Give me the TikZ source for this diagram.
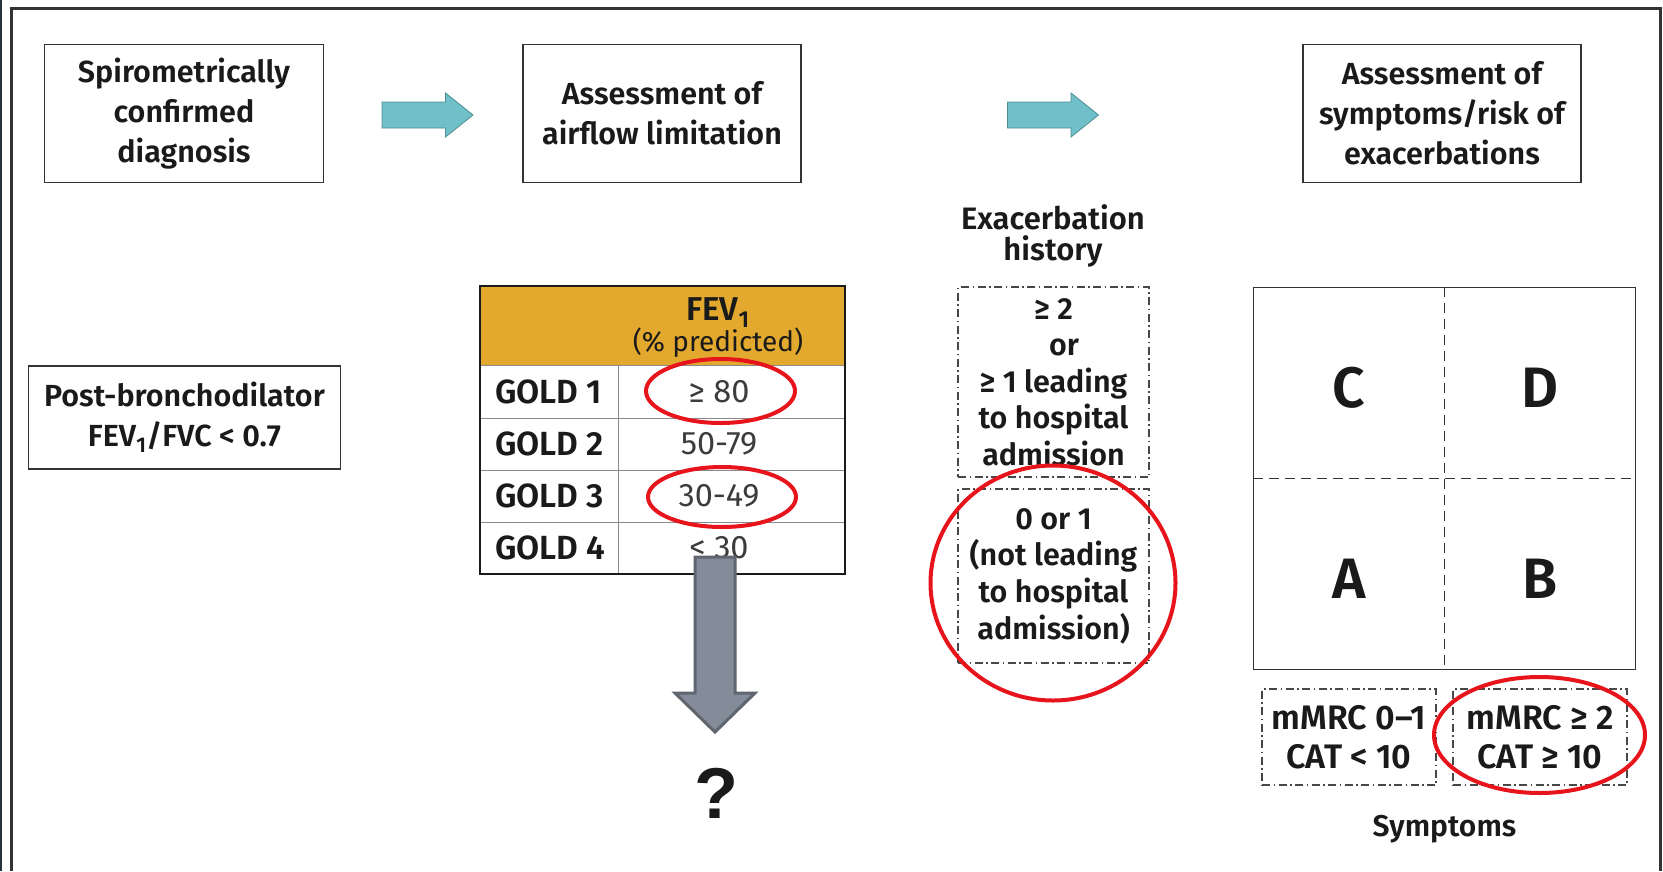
\documentclass[tikz,border=0pt]{standalone}
\usepackage{fontspec}
\setmainfont{Fira Sans}[BoldFont={Fira Sans SemiBold}]
\newfontfamily\qfont{Liberation Sans}
\usetikzlibrary{shapes.geometric}

\definecolor{ink}{HTML}{1A1A1A}
\definecolor{framegray}{HTML}{333333}
\definecolor{stripcol}{HTML}{263440}
\definecolor{tealfill}{HTML}{6FC0C8}
\definecolor{tealedge}{HTML}{4E8F96}
\definecolor{goldfill}{HTML}{E2A92E}
\definecolor{slatefill}{HTML}{848C99}
\definecolor{slateedge}{HTML}{5F6670}
\definecolor{ringred}{HTML}{E8141C}
\definecolor{rulegray}{HTML}{8A8A8A}

\tikzset{
  stepbox/.style={draw=framegray, line width=1.3pt, fill=white, align=center,
    inner sep=0pt, text=ink, font=\bfseries\fontsize{30.5}{40}\selectfont},
  dashbox/.style={draw=framegray!90, line width=1.2pt, align=center, inner sep=0pt,
    text=ink, dash pattern=on 8pt off 3.5pt on 1.5pt off 3.5pt},
  blockteal/.style={fill=tealfill, draw=tealedge, line width=0.8pt},
  blockgray/.style={fill=slatefill, draw=slateedge, line width=3pt, line join=miter},
  ring/.style={ellipse, draw=ringred, line width=4pt, inner sep=0pt},
  goldlabel/.style={anchor=west, inner sep=0pt, text=ink, font=\bfseries\fontsize{33.5}{33.5}\selectfont},
  goldvalue/.style={inner sep=0pt, text=ink!85, font=\fontsize{32.5}{32.5}\selectfont},
  quad/.style={inner sep=0pt, text=ink, font=\bfseries\fontsize{57}{57}\selectfont},
  plain/.style={inner sep=0pt, align=center, text=ink},
}

\begin{document}
\begin{tikzpicture}[x=1pt,y=-1pt]
\useasboundingbox (0,0) rectangle (1663,871);
\fill[white] (0,0) rectangle (1663,871);

% outer frame
\fill[stripcol] (0,0) rectangle (2,871);
\draw[framegray, line width=3pt] (11,871) -- (11,8.5) -- (1660.5,8.5) -- (1660.5,871);

% top row of steps
\node[stepbox, minimum width=279pt, minimum height=138pt] (diag) at (184,113.5)
  {Spirometrically\\confirmed\\diagnosis};
\node[stepbox, minimum width=278pt, minimum height=138pt] (airflow) at (662,113.5)
  {Assessment of\\airflow limitation};
\node[stepbox, minimum width=278pt, minimum height=138pt] (symrisk) at (1442,113.5)
  {Assessment of\\symptoms/risk of\\exacerbations};

\coordinate (t1) at (382,115);
\coordinate (t2) at (1007.5,115);
\draw[blockteal, shift={(t1)}] (0,-13) -- (63.5,-13) -- (63.5,-22) -- (91,0)
  -- (63.5,22) -- (63.5,13) -- (0,13) -- cycle;
\draw[blockteal, shift={(t2)}] (0,-13) -- (63.5,-13) -- (63.5,-22) -- (91,0)
  -- (63.5,22) -- (63.5,13) -- (0,13) -- cycle;

% spirometry criterion
\node[stepbox, line width=1.5pt, minimum width=312pt, minimum height=103pt] (postbd) at (184.5,417.5)
  {Post-bronchodilator\\FEV\textsubscript{1}/FVC < 0.7};

% GOLD table
\fill[goldfill] (480,286) rectangle (845,365);
\draw[rulegray, line width=1pt] (480,365) -- (845,365);
\draw[rulegray, line width=1pt] (480,418) -- (845,418);
\draw[rulegray, line width=1pt] (480,470) -- (845,470);
\draw[rulegray, line width=1pt] (480,522) -- (845,522);
\draw[rulegray, line width=1pt] (618,365) -- (618,574);
\node[draw=ink, line width=2.5pt, inner sep=0pt, minimum width=365pt, minimum height=288pt] (table) at (662.5,430) {};
\node[plain, font=\bfseries\fontsize{33}{33}\selectfont] (fevhead) at (718,313) {FEV\textsubscript{1}};
\node[plain, font=\fontsize{28}{28}\selectfont] (fevunit) at (718,343) {(\% predicted)};
\node[goldlabel] (g1) at (495,391.5) {GOLD 1};
\node[goldlabel] (g2) at (495,444) {GOLD 2};
\node[goldlabel] (g3) at (495,496) {GOLD 3};
\node[goldlabel] (g4) at (495,548) {GOLD 4};
\node[goldvalue] (v1) at (719,391.5) {≥ 80};
\node[goldvalue] (v2) at (719,444) {50-79};
\node[goldvalue] (v3) at (719,496) {30-49};
\node[goldvalue] (v4) at (719,548) {< 30};
\node[ring, minimum width=149pt, minimum height=64pt] (ring80) at (720.5,391) {};
\node[ring, minimum width=148pt, minimum height=60pt] (ring3049) at (722,497) {};

% downward block arrow and open question
\coordinate (g) at (715,557);
\draw[blockgray, shift={(g)}] (-20,0) -- (20,0) -- (20,136) -- (40,136) -- (0,175)
  -- (-40,136) -- (-20,136) -- cycle;
\node[plain, font=\qfont\bfseries\fontsize{72}{72}\selectfont] (question) at (716,793) {?};

% exacerbation history
\node[plain, font=\bfseries\fontsize{31}{31}\selectfont] (exhist) at (1053,236)
  {Exacerbation\\history};
\node[dashbox, minimum width=191pt, minimum height=190pt, font=\bfseries\fontsize{30.5}{36.6}\selectfont] (exhigh) at (1053.5,382)
  {≥ 2\\\hspace*{21pt}or\\≥ 1 leading\\to hospital\\admission};
\node[dashbox, minimum width=191pt, minimum height=174pt, font=\bfseries\fontsize{30.5}{36.6}\selectfont] (exlow) at (1053.5,576)
  {0 or 1\\(not leading\\to hospital\\admission)};
\node[ring, minimum width=245pt, minimum height=235pt] (ringexac) at (1053,583) {};

% ABCD grid
\node[draw=framegray, line width=1.5pt, inner sep=0pt, minimum width=382pt, minimum height=382pt] (grid) at (1444.5,478.3) {};
\draw[framegray, line width=1.2pt, dash pattern=on 10pt off 6pt] (grid.north) -- (grid.south);
\draw[framegray, line width=1.2pt, dash pattern=on 10pt off 6pt] (grid.west) -- (grid.east);
\node[quad] (qc) at (1349,388) {C};
\node[quad] (qd) at (1540,388) {D};
\node[quad] (qa) at (1349,579) {A};
\node[quad] (qb) at (1540,579) {B};

% symptom criteria
\node[dashbox, minimum width=174pt, minimum height=96pt, font=\bfseries\fontsize{34}{39}\selectfont] (symlow) at (1349,737)
  {mMRC 0–1\\CAT < 10};
\node[dashbox, minimum width=174pt, minimum height=96pt, font=\bfseries\fontsize{34}{39}\selectfont] (symhigh) at (1540,737)
  {mMRC ≥ 2\\CAT ≥ 10};
\node[ring, minimum width=211pt, minimum height=116pt] (ringsym) at (1539.5,735) {};
\node[plain, font=\bfseries\fontsize{30}{30}\selectfont] (symlabel) at (1444.5,829) {Symptoms};
\end{tikzpicture}
\end{document}
